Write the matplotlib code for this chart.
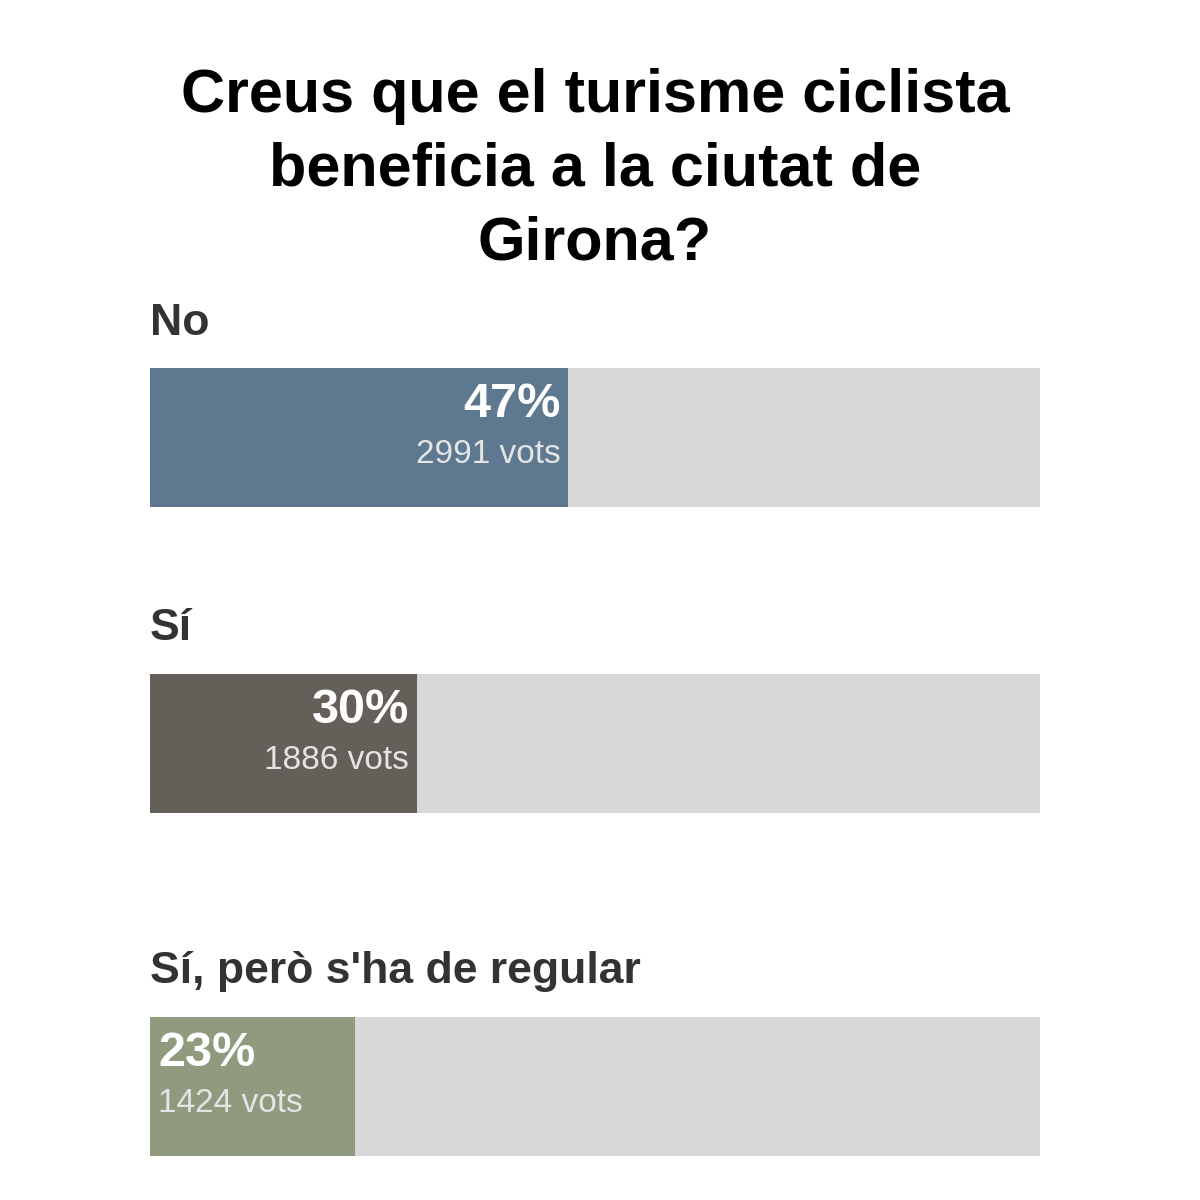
import matplotlib.pyplot as plt

# poll results
categories = ['No', 'Sí', "Sí, però s'ha de regular"]
percents = [47, 30, 23]
votes = [2991, 1886, 1424]
colors = ['#5e798f', '#655f5a', '#8f9a7f']
title_lines = ['Creus que el turisme ciclista', 'beneficia a la ciutat de', 'Girona?']

# layout (pixels from top)
bar_tops = [368, 674, 1017]
label_base = [335, 640, 983]
bar_h = 139
title_base = [112, 186, 259]

plt.rcParams['font.family'] = ['Liberation Sans', 'DejaVu Sans']

fig = plt.figure(figsize=(12, 12), dpi=100)
fig.patch.set_facecolor('white')
ax = fig.add_axes([150 / 1200, 0, 890 / 1200, 1])
ax.set_xlim(0, 100)
ax.set_ylim(1200, 0)
ax.axis('off')

for i, line in enumerate(title_lines):
    ax.text(50, title_base[i], line, ha='center', va='baseline',
            fontsize=44, fontweight='bold', color='black')

for i, cat in enumerate(categories):
    yc = bar_tops[i] + bar_h / 2
    ax.barh(yc, 100, height=bar_h, left=0, color='#d8d8d8')
    ax.barh(yc, percents[i], height=bar_h, left=0, color=colors[i])
    ax.text(0, label_base[i], cat, ha='left', va='baseline',
            fontsize=32, fontweight='bold', color='#333333')

    if percents[i] >= 25:
        xpos, ha, dx = percents[i], 'right', -8
    else:
        xpos, ha, dx = 0, 'left', 8
    ax.annotate(f'{percents[i]}%', (xpos, bar_tops[i] + 49), xytext=(dx, 0),
                textcoords='offset pixels', ha=ha, va='baseline',
                fontsize=35, fontweight='bold', color='white')
    ax.annotate(f'{votes[i]} vots', (xpos, bar_tops[i] + 95), xytext=(dx, 0),
                textcoords='offset pixels', ha=ha, va='baseline',
                fontsize=24, color='#e4e4e4')

fig.savefig('out.png', dpi=100, facecolor='white')
